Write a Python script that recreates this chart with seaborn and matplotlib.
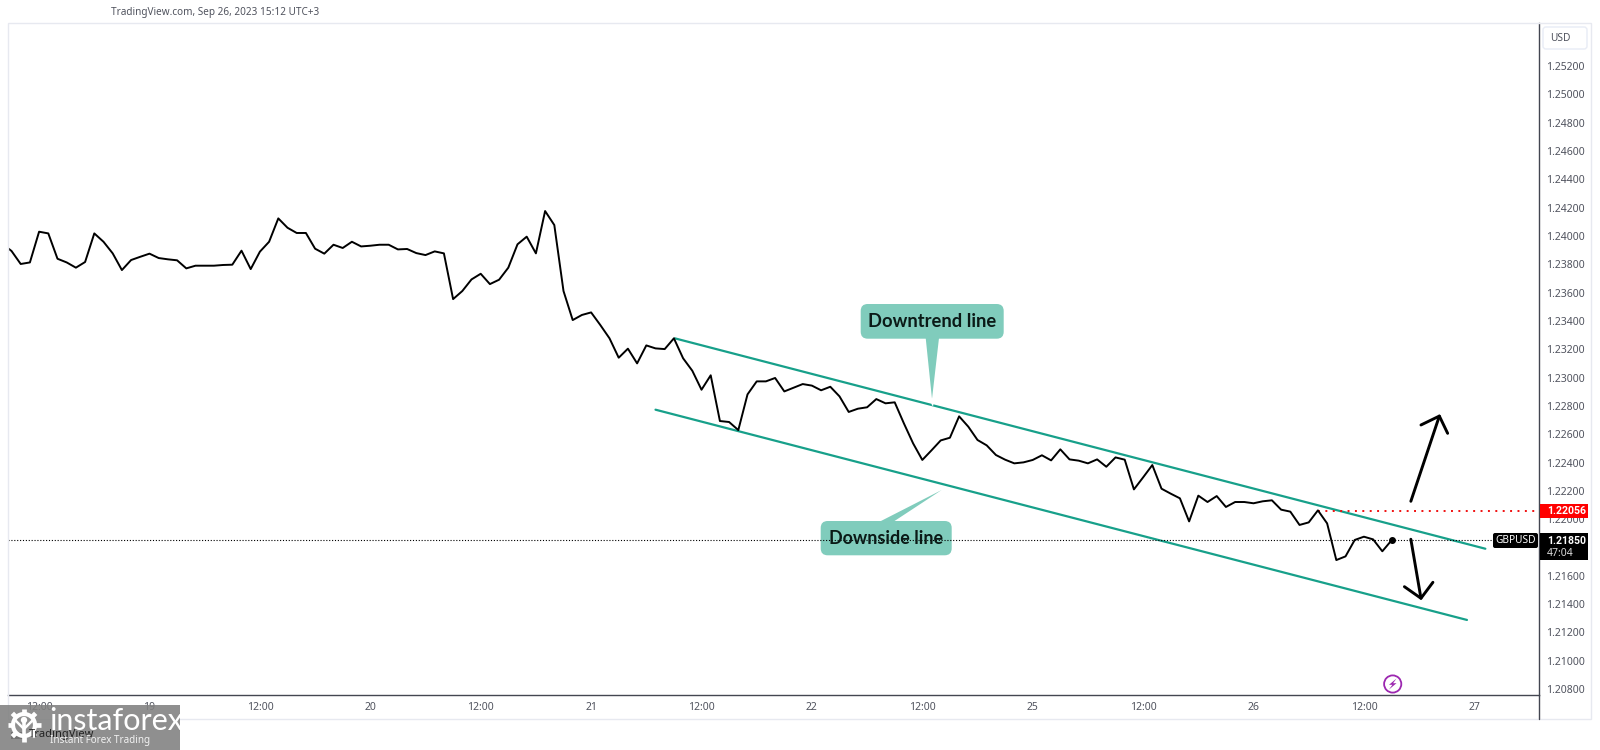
import numpy as np
import pandas as pd
import seaborn as sns
import matplotlib
matplotlib.use('Agg')
import matplotlib.pyplot as plt
from matplotlib.patches import FancyBboxPatch, Polygon, Circle, Rectangle

# GBPUSD hourly closes
closes = [
    1.23945, 1.23894, 1.23802, 1.23813, 1.24030, 1.24018, 1.23839, 1.23813, 1.23776, 1.23816,
    1.24018, 1.23959, 1.23877, 1.23759, 1.23830, 1.23853, 1.23875, 1.23844, 1.23835, 1.23828,
    1.23771, 1.23790, 1.23790, 1.23790, 1.23795, 1.23797, 1.23896, 1.23766, 1.23889, 1.23959,
    1.24124, 1.24058, 1.24021, 1.24021, 1.23910, 1.23875, 1.23938, 1.23915, 1.23959, 1.23926,
    1.23931, 1.23938, 1.23938, 1.23905, 1.23908, 1.23879, 1.23865, 1.23891, 1.23877, 1.23554,
    1.23611, 1.23693, 1.23733, 1.23660, 1.23691, 1.23776, 1.23941, 1.23995, 1.23877, 1.24176,
    1.24077, 1.23611, 1.23406, 1.23442, 1.23460, 1.23371, 1.23277, 1.23140, 1.23204, 1.23100,
    1.23227, 1.23206, 1.23201, 1.23277, 1.23136, 1.23048, 1.22914, 1.23016, 1.22693, 1.22686,
    1.22629, 1.22881, 1.22973, 1.22973, 1.22997, 1.22902, 1.22928, 1.22954, 1.22943, 1.22910,
    1.22935, 1.22867, 1.22757, 1.22780, 1.22790, 1.22848, 1.22818, 1.22825, 1.22676, 1.22535,
    1.22418, 1.22486, 1.22556, 1.22575, 1.22726, 1.22653, 1.22559, 1.22521, 1.22453, 1.22420,
    1.22394, 1.22401, 1.22418, 1.22451, 1.22415, 1.22493, 1.22422, 1.22413, 1.22394, 1.22422,
    1.22370, 1.22436, 1.22420, 1.22210, 1.22295, 1.22382, 1.22215, 1.22180, 1.22147, 1.21984,
    1.22166, 1.22121, 1.22163, 1.22086, 1.22121, 1.22121, 1.22112, 1.22126, 1.22133, 1.22067,
    1.22053, 1.21959, 1.21977, 1.22062, 1.21970, 1.21711, 1.21737, 1.21853, 1.21876, 1.21857,
    1.21773, 1.21850,
]
time_ticks = [4, 16, 28, 40, 52, 64, 76, 88, 100, 112, 124, 136, 148, 160]
time_labels = ['12:00', '19', '12:00', '20', '12:00', '21', '12:00', '22',
               '12:00', '25', '12:00', '26', '12:00', '27']
price_ticks = [1.208 + 0.002 * i for i in range(23)]

last_price = 1.21850
level_price = 1.22056
level_start = 143

# drawn lines: bar index, price
upper_x = [73.1, 161.2]
upper_y = [1.23277, 1.21791]
lower_x = [71.0, 159.2]
lower_y = [1.22773, 1.21288]
up_arrow_x = [153.1, 156.2]
up_arrow_y = [1.22126, 1.22728]
up_barbs_x = [154.2, 156.2, 157.1]
up_barbs_y = [1.22665, 1.22728, 1.22606]
down_arrow_x = [153.1, 154.2]
down_arrow_y = [1.21858, 1.21441]
down_barbs_x = [152.4, 154.2, 155.5]
down_barbs_y = [1.21523, 1.21441, 1.21554]

TEAL = '#17a08a'
CALLOUT = '#80ccbc'
GREY = '#50535e'
AXIS = '#434651'
BORDER = '#e7e9f0'

sns.set_style('white')
plt.rcParams['font.family'] = ['Noto Sans', 'DejaVu Sans']

df = pd.DataFrame({'bar': np.arange(len(closes)), 'close': closes})

fig = plt.figure(figsize=(16, 7.5), dpi=100)
ax = fig.add_axes([8 / 1600, 55 / 750, 1531 / 1600, 672 / 750], zorder=1)
# pixel layer for the decoration
deco = fig.add_axes([0, 0, 1, 1], zorder=2)
deco.set_xlim(0, 1600)
deco.set_ylim(750, 0)
deco.axis('off')
deco.patch.set_alpha(0)

sns.lineplot(data=df, x='bar', y='close', color='black', linewidth=1.4, errorbar=None,
             sort=False, ax=ax, zorder=5)
ax.scatter([df['bar'].iloc[-1]], [last_price], s=16, color='black', zorder=6)

ax.set_xlim(0.62, 167.03)
ax.set_ylim(1.20758, 1.25504)
ax.set_xlabel('')
ax.set_ylabel('')
ax.set_xticks(time_ticks)
ax.set_xticklabels(time_labels)
ax.set_yticks(price_ticks)
ax.set_yticklabels([f'{p:.5f}' for p in price_ticks])
ax.yaxis.tick_right()
ax.tick_params(axis='x', length=0, pad=5, labelsize=7.5, labelcolor=GREY)
ax.tick_params(axis='y', length=0, pad=5, labelsize=7.5, labelcolor=GREY)
for side in ['top', 'left']:
    ax.spines[side].set_visible(False)
for side in ['bottom', 'right']:
    ax.spines[side].set_color(AXIS)
    ax.spines[side].set_linewidth(1.0)

# trend channel, levels and arrows
ax.plot(upper_x, upper_y, color=TEAL, lw=1.6, zorder=3)
ax.plot(lower_x, lower_y, color=TEAL, lw=1.6, zorder=3)
ax.plot([0.62, 167.03], [last_price, last_price], color='black', lw=0.8, ls=(0, (1, 1.6)), zorder=4)
ax.plot([level_start, 167.03], [level_price, level_price], color='#f01010', lw=1.4, ls=(0, (1, 2.8)), zorder=4)
for xs, ys in [(up_arrow_x, up_arrow_y), (up_barbs_x, up_barbs_y),
               (down_arrow_x, down_arrow_y), (down_barbs_x, down_barbs_y)]:
    ax.plot(xs, ys, color='black', lw=2.1, zorder=5)


# callouts sit under the dotted line, so they go on the main axes in pixel coordinates
def callout(x0, y0, x1, y1, pointer, text, size):
    tr = deco.transData
    box = FancyBboxPatch((x0, y0), x1 - x0, y1 - y0, boxstyle='round,pad=0,rounding_size=7',
                         fc=CALLOUT, ec='none', transform=tr, clip_on=False, zorder=2)
    ax.add_patch(box)
    ax.add_patch(Polygon(pointer, closed=True, fc=CALLOUT, ec='none', transform=tr,
                         clip_on=False, zorder=2))
    ax.text((x0 + x1) / 2, (y0 + y1) / 2, text, transform=tr, ha='center', va='center',
            fontsize=size, color='#0b1a17', family='Lato', fontweight='bold', zorder=7)


callout(860.7, 304, 1003.7, 338.7, [(925.7, 338), (939, 338), (932, 399)], 'Downtrend line', 13.2)
callout(820.7, 521, 951.7, 555.3, [(879, 522), (893, 522), (941.7, 490)], 'Downside line', 12.9)
deco.plot([932, 932.6], [398.5, 405], color='white', lw=1.2)

# chart frame
deco.add_patch(Rectangle((8, 23), 1583, 696, fc='none', ec=BORDER, lw=1.0))
deco.plot([1539, 1539], [695, 719], color=AXIS, lw=1.0)
deco.text(111, 13, 'TradingView.com, Sep 26, 2023 15:12 UTC+3', fontsize=7.2, color=GREY, va='center')
deco.add_patch(FancyBboxPatch((1543, 27), 44, 22, boxstyle='round,pad=0,rounding_size=3',
                              fc='white', ec='#e8ecf5', lw=1.0))
deco.text(1550, 38.5, 'USD', fontsize=7.3, color=GREY, va='center')

# price labels on the scale
deco.add_patch(Rectangle((1539.5, 504), 48.5, 14, fc='#ff0000', ec='none'))
deco.text(1547, 511, f'{level_price:.5f}', color='white', fontsize=7.6, family='Roboto',
          fontweight='bold', va='center')
deco.add_patch(Rectangle((1539.5, 533), 48.5, 27, fc='black', ec='none'))
deco.text(1547, 540.5, f'{last_price:.5f}', color='white', fontsize=7.6, family='Roboto',
          fontweight='bold', va='center')
deco.text(1547, 553, '47:04', color='#d8d8d8', fontsize=7.5, va='center')
deco.add_patch(FancyBboxPatch((1493, 533), 45, 15, boxstyle='round,pad=0,rounding_size=2',
                              fc='black', ec='none'))
deco.text(1515.5, 540.5, 'GBPUSD', color='white', fontsize=7.3, ha='center', va='center')

# lightning badge
deco.add_patch(Circle((1392.7, 684), 8.6, fc='white', ec='#9c27b0', lw=1.3))
deco.add_patch(Polygon([(1396.5, 678.5), (1389, 684.8), (1392.4, 684.8), (1389, 689.5),
                        (1396.5, 683.2), (1393.1, 683.2)], closed=True, fc='#9c27b0', ec='none'))

# watermark sits over the chart's corner, the TradingView mark shows through it
deco.add_patch(Rectangle((11, 732), 12, 7, fc='#222222', ec='none'))
deco.text(29, 735, 'TradingView', fontsize=8, color='#222222', va='center')
deco.add_patch(Rectangle((0, 705), 180, 45, fc='#808080', ec='none', alpha=0.88))
deco.add_patch(Circle((24, 725), 11, fc='none', ec='white', lw=3.0))
for angle in np.arange(0, 360, 45):
    c, s = np.cos(np.radians(angle)), np.sin(np.radians(angle))
    deco.plot([24 + 11 * c, 24 + 16.5 * c], [725 + 11 * s, 725 + 16.5 * s],
              color='white', lw=3.4, solid_capstyle='butt')
deco.add_patch(Circle((24, 720), 3.2, fc='white', ec='none'))
deco.plot([24, 24], [722, 738], color='white', lw=2.6, solid_capstyle='butt')
deco.plot([15, 24, 33], [720, 729, 720], color='white', lw=1.8)
deco.text(49.5, 721, 'instaforex', color='white', fontsize=22, family='Lato', va='center')
deco.text(49.5, 741, 'Instant Forex Trading', color='#f2f2f2', fontsize=7.1, va='center')

fig.savefig('out.png', dpi=100, facecolor='white')
